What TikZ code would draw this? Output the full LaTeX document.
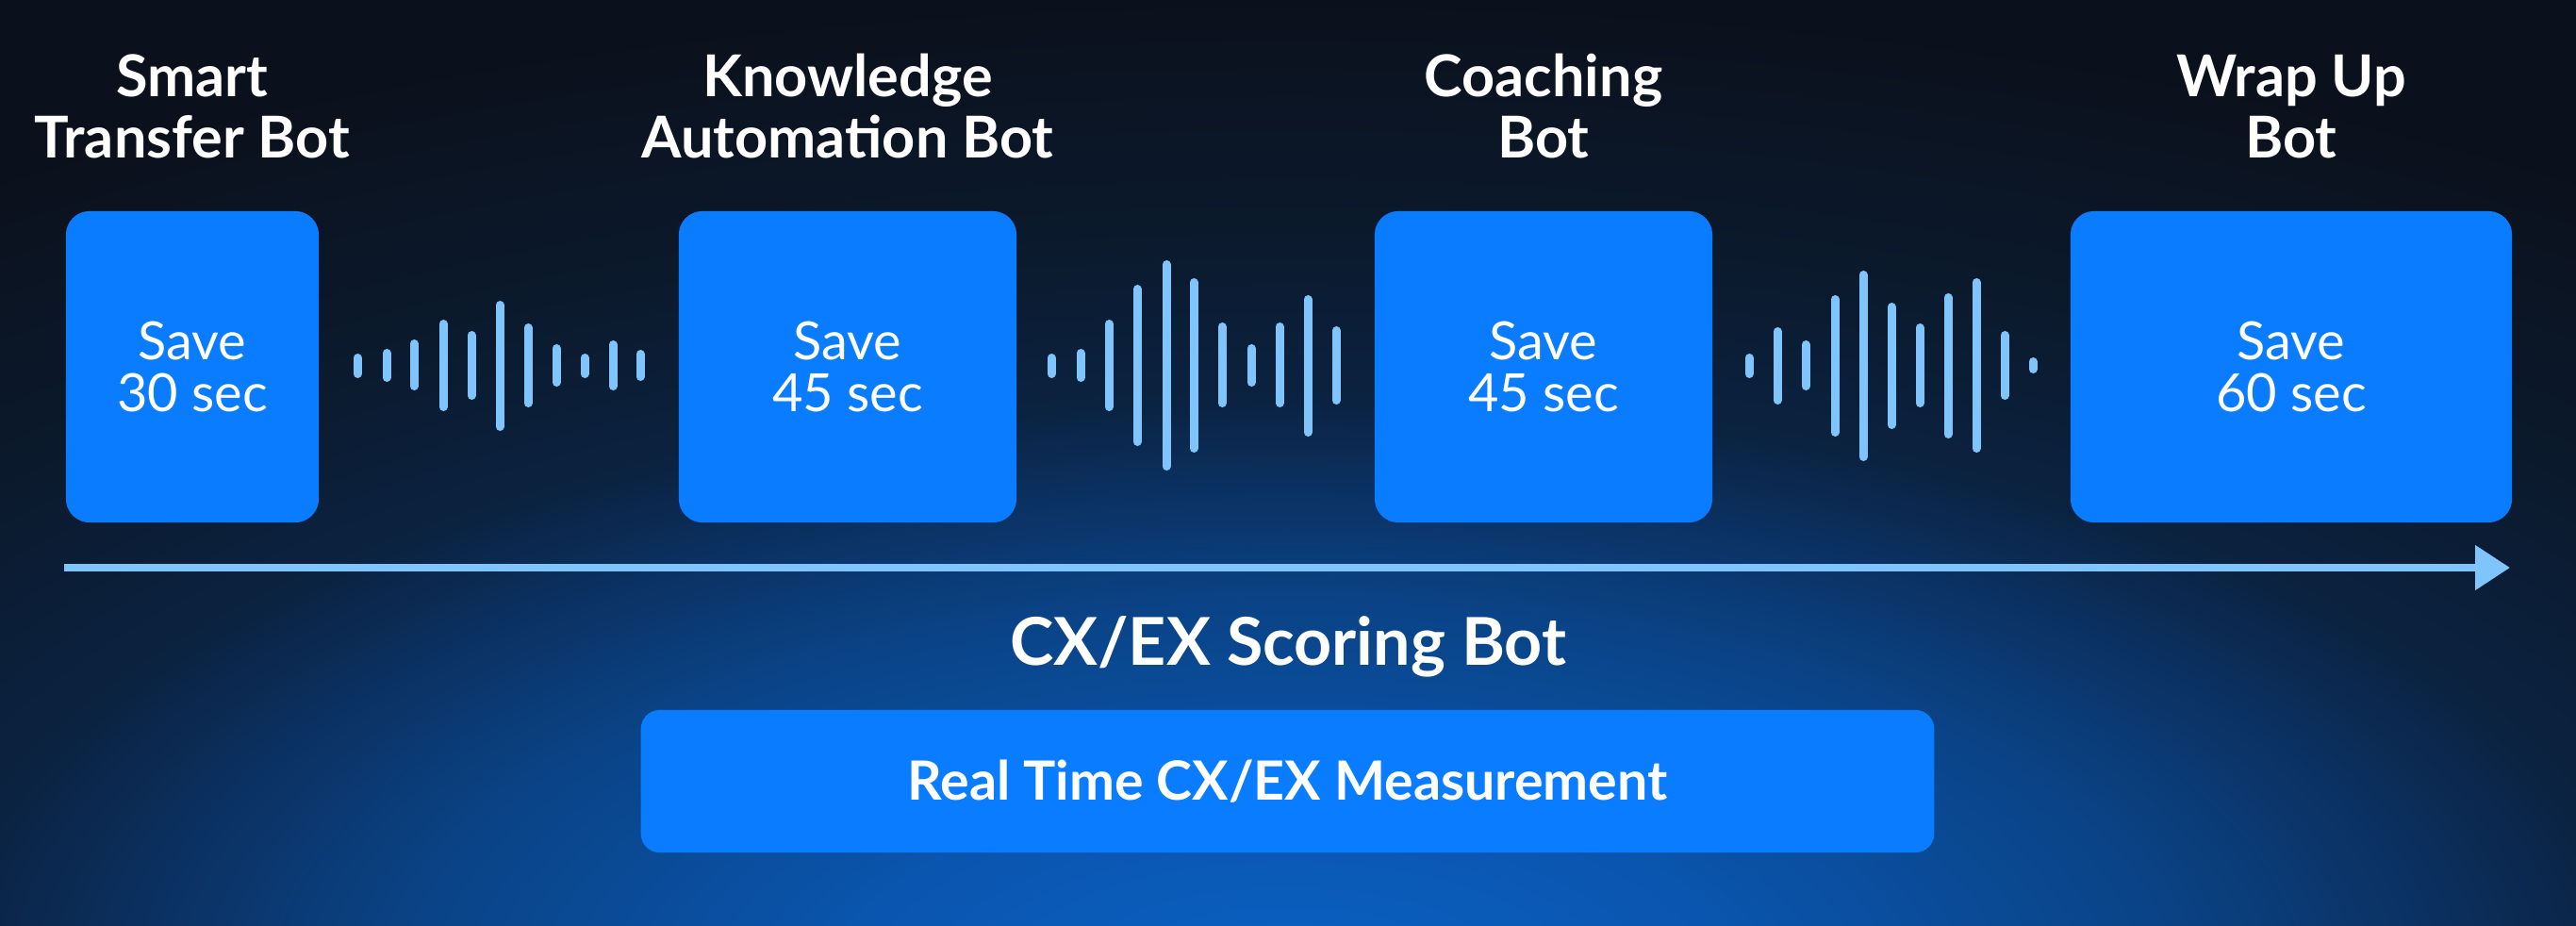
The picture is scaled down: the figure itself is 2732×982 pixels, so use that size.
\documentclass[tikz,border=0pt]{standalone}
\usepackage{fontspec}
\setmainfont{Lato}
\usetikzlibrary{arrows.meta}
\definecolor{bgdark}{HTML}{0B111C}
\definecolor{glow0}{HTML}{0A62C6}
\definecolor{glow1}{HTML}{0A55AE}
\definecolor{glow2}{HTML}{0A4284}
\definecolor{glow3}{HTML}{0B3264}
\definecolor{glow4}{HTML}{0B2240}
\definecolor{glow5}{HTML}{0B1A2E}
\definecolor{boxblue}{HTML}{0A7CFF}
\definecolor{barblue}{HTML}{7FC4FA}
\pgfdeclareradialshading{glow}{\pgfpoint{0bp}{0bp}}{color(0bp)=(glow0); color(5bp)=(glow1); color(10bp)=(glow2); color(12.5bp)=(glow3); color(15bp)=(glow4); color(18.75bp)=(glow5); color(25bp)=(bgdark); color(50bp)=(bgdark)}
\tikzset{
  botbox/.style={fill=boxblue, rounded corners=0.25cm, text=white, align=center,
    minimum height=3.30cm, inner sep=0pt, font=\fontsize{15.9pt}{15.4pt}\selectfont},
  bottitle/.style={text=white, align=center, inner sep=0pt,
    font=\fontsize{17.4pt}{18.5pt}\selectfont\bfseries},
  wavebar/.style={draw=barblue, line width=0.09cm, line cap=round},
  timeline/.style={draw=barblue, line width=0.08cm, -{Triangle[length=0.37cm,width=0.46cm]}},
}
\begin{document}
\begin{tikzpicture}[x=0.01cm,y=-0.01cm]
\useasboundingbox (0,0) rectangle (2732,982);
\fill[bgdark] (0,0) rectangle (2732,982);
\begin{scope}
  \clip (0,0) rectangle (2732,982);
  \shade[shading=glow] (-1034,0) rectangle (3766,2100);
\end{scope}

% titles
\node[bottitle, anchor=base] (t1) at (204,168) {Smart\\Transfer Bot};
\node[bottitle, anchor=base] (t2) at (899,168) {Knowledge\\Automation Bot};
\node[bottitle, anchor=base] (t3) at (1637,168) {Coaching\\Bot};
\node[bottitle, anchor=base] (t4) at (2430,168) {Wrap Up\\Bot};

% boxes
\node[botbox, minimum width=2.68cm] (b1) at (204,389) {Save\\30 sec};
\node[botbox, minimum width=3.58cm] (b2) at (899,389) {Save\\45 sec};
\node[botbox, minimum width=3.58cm] (b3) at (1637,389) {Save\\45 sec};
\node[botbox, minimum width=4.68cm] (b4) at (2430,389) {Save\\60 sec};

% waveforms
\foreach \x/\t/\b in {379/375/401, 410/370/405, 439/360/414, 470/339/436, 500/351/424, 530/319/457, 560/343/432, 590/365/410, 620/375/401, 650/361/414, 679/371/404,
  1115/375/401, 1146/370/405, 1176/339/436, 1206/302/473, 1237/276/499, 1266/295/480, 1296/342/432, 1327/365/410, 1357/342/432, 1387/313/463, 1417/346/429,
  1855/375/401, 1885/347/429, 1915/361/414, 1946/313/463, 1976/287/489, 2006/321/455, 2036/343/432, 2066/311/465, 2096/295/480, 2126/351/424, 2156/379/396}
  \draw[wavebar] (\x,\t+4.5) -- (\x,\b-4.5);

% timeline arrow
\coordinate (as) at (68,602);
\coordinate (ae) at (2662,602);
\draw[timeline] (as) -- (ae);

% scoring bot
\node[text=white, inner sep=0pt, anchor=base, font=\fontsize{19.9pt}{22pt}\selectfont\bfseries] (st) at (1366,705) {CX/EX Scoring Bot};
\node[fill=boxblue, rounded corners=0.2cm, minimum width=13.71cm, minimum height=1.51cm, inner sep=0pt, text=white, font=\fontsize{16.3pt}{18pt}\selectfont\bfseries] (mb) at (1365.5,828.5) {Real Time CX/EX Measurement};
\end{tikzpicture}
\end{document}
